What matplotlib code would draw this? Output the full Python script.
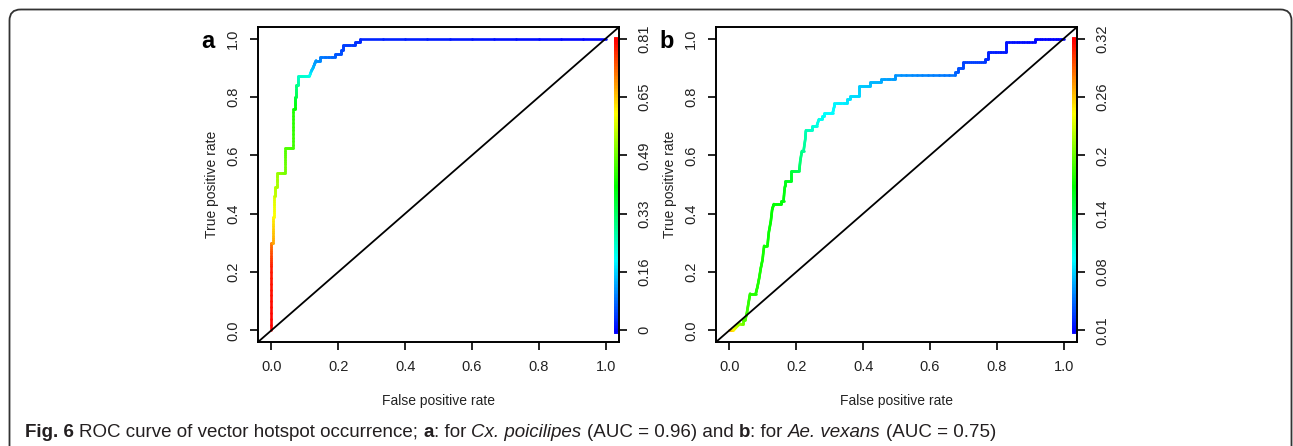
import numpy as np
import matplotlib
matplotlib.use("Agg")
import matplotlib.pyplot as plt
from matplotlib.collections import LineCollection
from matplotlib.colors import hsv_to_rgb
from matplotlib.patches import FancyBboxPatch

plt.rcParams['font.family'] = ['Liberation Sans', 'DejaVu Sans']

# panel a: Cx. poicilipes  (fpr, tpr, cutoff at each ROC vertex)
fpr_a = [0, 0, 0, 0.004, 0.004, 0.007, 0.007, 0.012, 0.012, 0.017, 0.017, 0.04, 0.04,
         0.065, 0.065, 0.07, 0.07, 0.075, 0.075, 0.08, 0.08, 0.114, 0.12, 0.125, 0.13,
         0.134, 0.144, 0.144, 0.19, 0.19, 0.208, 0.208, 0.213, 0.213, 0.25, 0.25,
         0.266, 0.266, 1.0]
tpr_a = [0, 0.22, 0.30, 0.30, 0.39, 0.39, 0.46, 0.46, 0.49, 0.49, 0.538, 0.538, 0.624,
         0.624, 0.76, 0.76, 0.80, 0.80, 0.84, 0.84, 0.871, 0.871, 0.89, 0.90, 0.915,
         0.925, 0.925, 0.937, 0.937, 0.948, 0.948, 0.96, 0.96, 0.979, 0.979, 0.988,
         0.988, 1.0, 1.0]
cut_a = [0.81, 0.79, 0.72, 0.68, 0.62, 0.61, 0.58, 0.56, 0.55, 0.54, 0.53, 0.50, 0.47,
         0.46, 0.43, 0.41, 0.37, 0.35, 0.31, 0.29, 0.25, 0.23, 0.17, 0.15, 0.13,
         0.12, 0.11, 0.10, 0.08, 0.07, 0.065, 0.06, 0.055, 0.05, 0.045, 0.04,
         0.035, 0.03, 0.0]
cbar_a = ['0', '0.16', '0.33', '0.49', '0.65', '0.81']

# panel b: Ae. vexans
fpr_b = [0, 0.012, 0.02, 0.032, 0.042, 0.042, 0.047, 0.052, 0.057, 0.062, 0.079, 0.084,
         0.089, 0.094, 0.099, 0.104, 0.114, 0.118, 0.124, 0.128, 0.133, 0.155, 0.155,
         0.162, 0.166, 0.166, 0.183, 0.183, 0.209, 0.212, 0.217, 0.222, 0.227, 0.229,
         0.246, 0.246, 0.261, 0.268, 0.276, 0.276, 0.284, 0.284, 0.309, 0.314, 0.314,
         0.353, 0.353, 0.361, 0.361, 0.387, 0.387, 0.422, 0.422, 0.455, 0.455, 0.497,
         0.497, 0.674, 0.674, 0.684, 0.684, 0.699, 0.699, 0.764, 0.764, 0.774, 0.774,
         0.829, 0.829, 0.913, 0.913, 1.0]
tpr_b = [0, 0.0, 0.01, 0.023, 0.023, 0.034, 0.034, 0.057, 0.092, 0.126, 0.126, 0.149,
         0.178, 0.213, 0.241, 0.29, 0.29, 0.336, 0.374, 0.414, 0.433, 0.433, 0.445,
         0.445, 0.494, 0.513, 0.513, 0.546, 0.546, 0.58, 0.615, 0.615, 0.655, 0.686,
         0.686, 0.699, 0.699, 0.724, 0.724, 0.736, 0.736, 0.745, 0.745, 0.768, 0.779,
         0.779, 0.793, 0.793, 0.805, 0.805, 0.837, 0.837, 0.851, 0.851, 0.862, 0.862,
         0.874, 0.874, 0.887, 0.887, 0.899, 0.899, 0.92, 0.92, 0.931, 0.931, 0.954,
         0.954, 0.989, 0.989, 1.0, 1.0]
cut_b = [0.27, 0.25, 0.23, 0.21, 0.20, 0.195, 0.19, 0.185, 0.18, 0.178, 0.176, 0.175,
         0.174, 0.172, 0.171, 0.17, 0.169, 0.168, 0.167, 0.166, 0.165, 0.164, 0.163,
         0.162, 0.16, 0.158, 0.155, 0.15, 0.14, 0.13, 0.125, 0.12, 0.115, 0.11,
         0.105, 0.1, 0.097, 0.094, 0.092, 0.09, 0.089, 0.088, 0.087, 0.086, 0.085,
         0.082, 0.08, 0.079, 0.078, 0.076, 0.072, 0.07, 0.066, 0.064, 0.06, 0.058,
         0.055, 0.045, 0.04, 0.038, 0.035, 0.033, 0.03, 0.028, 0.025, 0.022, 0.02,
         0.017, 0.015, 0.013, 0.011, 0.01]
cbar_b = ['0.01', '0.08', '0.14', '0.2', '0.26', '0.32']

W, H = 1293, 446


def rainbow(v):
    # v in 0..1 -> blue (0) to red (1), like rev(rainbow(start=0, end=4/6))
    v = np.clip(np.asarray(v), 0, 1)
    hsv = np.stack([(1 - v) * 4 / 6, np.ones_like(v), np.ones_like(v)], axis=-1)
    return hsv_to_rgb(hsv)


def roc_panel(left, fpr, tpr, cut, cbar_labels, letter, letter_x):
    ax = fig.add_axes([left / W, 1 - 342 / H, 361 / W, 315 / H])
    ax.set_xlim(-0.04, 1.04)
    ax.set_ylim(-0.04, 1.04)

    lo, hi = float(cbar_labels[0]), float(cbar_labels[-1])
    segs, cols = [], []
    for i in range(len(fpr) - 1):
        n = 12
        xs = np.linspace(fpr[i], fpr[i + 1], n)
        ys = np.linspace(tpr[i], tpr[i + 1], n)
        cs = np.linspace(cut[i], cut[i + 1], n)
        for j in range(n - 1):
            segs.append([(xs[j], ys[j]), (xs[j + 1], ys[j + 1])])
            cols.append((cs[j] + cs[j + 1]) / 2)
    cols = rainbow((np.array(cols) - lo) / (hi - lo))
    ax.add_collection(LineCollection(segs, colors=cols, linewidths=1.9,
                                     capstyle='round', joinstyle='round'))

    ax.plot([-0.04, 1.04], [-0.04, 1.04], color='black', lw=1.3)

    # colour bar of cutoffs
    yb = np.linspace(-0.005, 1.0, 200)
    bsegs = [[(1.031, yb[k]), (1.031, yb[k + 1])] for k in range(len(yb) - 1)]
    ax.add_collection(LineCollection(bsegs, colors=rainbow((yb[:-1] + yb[1:]) / 2),
                                     linewidths=2.8, capstyle='projecting'))

    ticks = [0, 0.2, 0.4, 0.6, 0.8, 1.0]
    ax.set_xticks(ticks)
    ax.set_xticklabels(['0.0', '0.2', '0.4', '0.6', '0.8', '1.0'])
    ax.set_yticks(ticks)
    ax.set_yticklabels(['0.0', '0.2', '0.4', '0.6', '0.8', '1.0'],
                       rotation=90, va='center')
    ax.tick_params(length=6, width=1.2, labelsize=10.5, pad=7, color='black',
                   labelcolor='#222222')
    for s in ax.spines.values():
        s.set_linewidth(1.4)

    ax2 = ax.twinx()
    ax2.set_ylim(-0.04, 1.04)
    ax2.set_yticks(ticks)
    ax2.set_yticklabels(cbar_labels, rotation=90, va='center')
    ax2.tick_params(length=6, width=1.2, labelsize=10.5, pad=7,
                    labelcolor='#222222')
    for s in ax2.spines.values():
        s.set_visible(False)

    ax.set_xlabel('False positive rate', fontsize=10, labelpad=14, color='#222222')
    ax.set_ylabel('True positive rate', fontsize=10, labelpad=5, color='#222222')
    fig.text(letter_x / W, 1 - 48 / H, letter, fontsize=17, fontweight='bold',
             ha='center', va='baseline')
    return ax


fig = plt.figure(figsize=(W / 100, H / 100), dpi=100)

# rounded frame around the figure, drawn in pixel units
bg = fig.add_axes([0, 0, 1, 1], zorder=-1)
bg.set_xlim(0, W)
bg.set_ylim(H, 0)
bg.axis('off')
bg.add_patch(FancyBboxPatch((9.5, 9.5), W - 11, H + 40,
                            boxstyle='round,pad=0,rounding_size=11',
                            fill=False, edgecolor='#333333', lw=1.3))

roc_panel(258, fpr_a, tpr_a, cut_a, cbar_a, 'a', 207.5)
roc_panel(716, fpr_b, tpr_b, cut_b, cbar_b, 'b', 667)

# caption built piece by piece
caption = [
    ("Fig. 6", 'bold', 'normal', True),
    ("ROC curve of vector hotspot occurrence;", 'normal', 'normal', True),
    ("a", 'bold', 'normal', False),
    (": for", 'normal', 'normal', True),
    ("Cx. poicilipes", 'normal', 'italic', True),
    ("(AUC = 0.96) and", 'normal', 'normal', True),
    ("b", 'bold', 'normal', False),
    (": for", 'normal', 'normal', True),
    ("Ae. vexans", 'normal', 'italic', True),
    ("(AUC = 0.75)", 'normal', 'normal', False),
]
cap_font = ['Liberation Sans Narrow', 'Liberation Sans', 'DejaVu Sans']
renderer = fig.canvas.get_renderer()


def lay_caption(size, draw):
    x = 25.0
    probe = fig.text(0, 0, "x x", fontsize=size, family=cap_font)
    probe2 = fig.text(0, 0, "xx", fontsize=size, family=cap_font)
    sp = probe.get_window_extent(renderer).width - probe2.get_window_extent(renderer).width
    probe.remove()
    probe2.remove()
    texts = []
    for txt, wt, st, space in caption:
        t = fig.text(x / W, 1 - 437 / H, txt, fontsize=size, fontweight=wt,
                     fontstyle=st, family=cap_font, color='#231f20', va='baseline')
        x += t.get_window_extent(renderer).width
        if space:
            x += sp
        texts.append(t)
    if not draw:
        for t in texts:
            t.remove()
    return x


size = 15
end = lay_caption(size, False)
size = size * (996 - 25) / (end - 25)
lay_caption(size, True)

fig.savefig('out.png', dpi=100)
